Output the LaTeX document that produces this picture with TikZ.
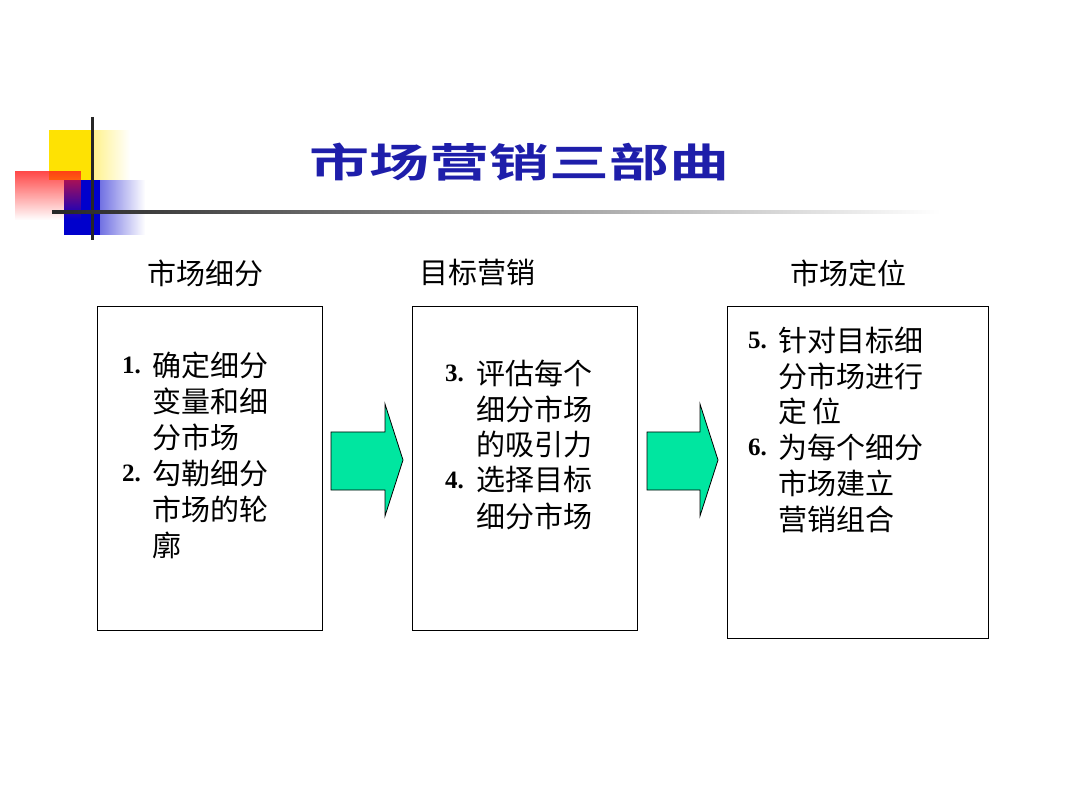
\documentclass[tikz,border=0pt]{standalone}
\usepackage{fontspec}
\newfontfamily\cjk{Noto Sans CJK SC}
\newfontfamily\cjkb{Noto Sans CJK SC Bold}
\newfontfamily\tnr{Liberation Serif}
\usetikzlibrary{fadings}
\definecolor{arrg}{RGB}{0,230,160}
\definecolor{ttl}{RGB}{30,30,170}
\tikzset{
  box/.style={draw,line width=0.8pt},
  hdr/.style={font=\cjk\fontsize{29}{29}\selectfont,anchor=center},
  ln/.style={font=\cjk\fontsize{29}{29}\selectfont,anchor=west,inner sep=0},
  num/.style={font=\tnr\bfseries\fontsize{25}{25}\selectfont,anchor=west,inner sep=0},
  fat/.style={draw,fill=arrg,line width=0.8pt,line join=miter}
}
\begin{document}
\begin{tikzpicture}[x=1pt,y=-1pt]
\useasboundingbox (0,0) rectangle (1080,810);
% decoration
\fill[yellow!85!orange, path fading=east] (49,130) rectangle (130,180);
\fill[yellow!85!orange] (49,130) rectangle (92,180);
\fill[blue!80!black, path fading=east] (64,180) rectangle (145,235);
\fill[blue!80!black] (64,180) rectangle (100,235);
\fill[red!90, path fading=south, opacity=0.8] (15,171) rectangle (81,220);
\draw[line width=3pt,black!85] (92,117) -- (92,240);
\shade[left color=black!85,right color=white] (52,210.5) rectangle (940,213.5);
% title
\node[font=\cjkb\fontsize{40}{40}\selectfont,text=ttl,xscale=1.5] (title) at (519,162) {市场营销三部曲};
% headers
\node[hdr] (h1) at (205,273) {市场细分};
\node[hdr] (h2) at (477,273) {目标营销};
\node[hdr] (h3) at (848,273) {市场定位};
% boxes
\node[box,minimum width=225,minimum height=324,anchor=north west] (b1) at (97,306) {};
\node[box,minimum width=225,minimum height=324,anchor=north west] (b2) at (412,306) {};
\node[box,minimum width=261,minimum height=332,anchor=north west] (b3) at (727,306) {};
% box1 text
\node[num] (n1) at (122,365) {1.};
\node[ln] (t11) at (152,365) {确定细分};
\node[ln] (t12) at (152,401) {变量和细};
\node[ln] (t13) at (152,437) {分市场};
\node[num] (n2) at (122,473) {2.};
\node[ln] (t21) at (152,473) {勾勒细分};
\node[ln] (t22) at (152,509) {市场的轮};
\node[ln] (t23) at (152,545) {廓};
% box2 text
\node[num] (n3) at (445,373) {3.};
\node[ln] (t31) at (476,373) {评估每个};
\node[ln] (t32) at (476,409) {细分市场};
\node[ln] (t33) at (476,444) {的吸引力};
\node[num] (n4) at (445,480) {4.};
\node[ln] (t41) at (476,480) {选择目标};
\node[ln] (t42) at (476,516) {细分市场};
% box3 text
\node[num] (n5) at (748,340) {5.};
\node[ln] (t51) at (778,340) {针对目标细};
\node[ln] (t52) at (778,376) {分市场进行};
\node[ln] (t53) at (778,411) {定\,位};
\node[num] (n6) at (748,447) {6.};
\node[ln] (t61) at (778,447) {为每个细分};
\node[ln] (t62) at (778,483) {市场建立};
\node[ln] (t63) at (778,519) {营销组合};
% arrows
\draw[fat] (331,432) -- (385,432) -- (385,404) -- (403,460) -- (385,516) -- (385,490) -- (331,490) -- cycle;
\draw[fat] (647,432) -- (700,432) -- (700,404) -- (718,460) -- (700,516) -- (700,490) -- (647,490) -- cycle;
\end{tikzpicture}
\end{document}
